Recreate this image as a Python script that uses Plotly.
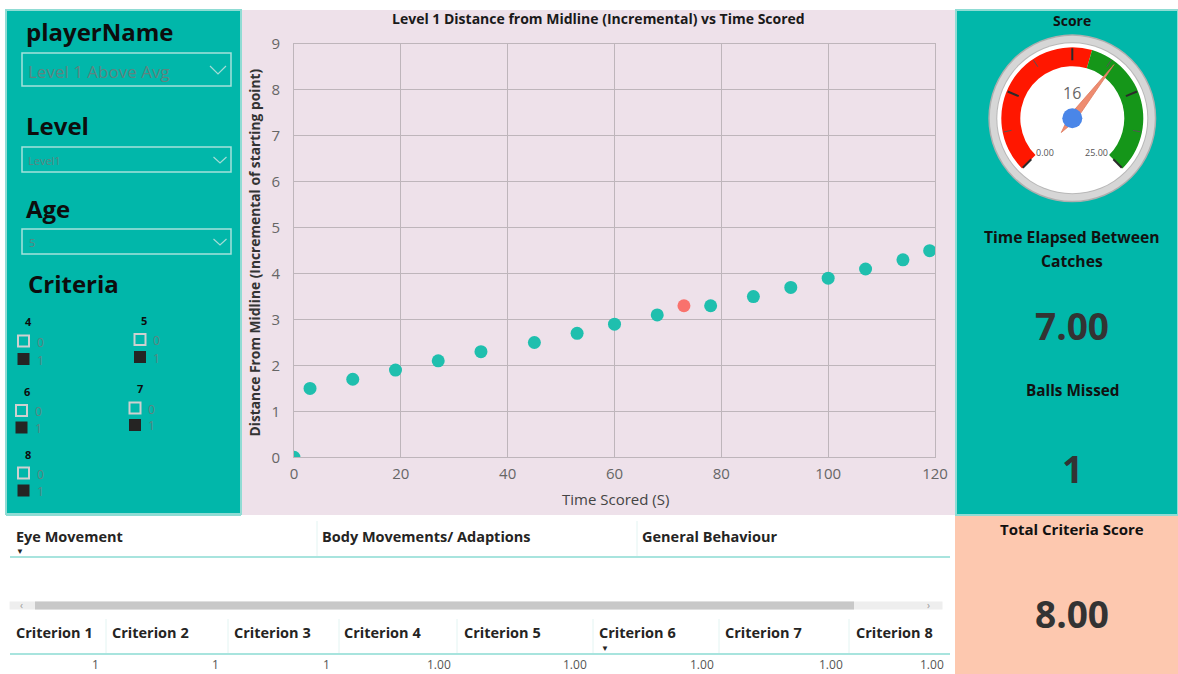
import plotly.graph_objects as go
import numpy as np

# ---------------- data ----------------
time_scored = [0, 3, 11, 19, 27, 35, 45, 53, 60, 68, 73, 78, 86, 93, 100, 107, 114, 119]
distance = [0, 1.5, 1.7, 1.9, 2.1, 2.3, 2.5, 2.7, 2.9, 3.1, 3.3, 3.3, 3.5, 3.7, 3.9, 4.1, 4.3, 4.5]
missed = [0, 0, 0, 0, 0, 0, 0, 0, 0, 0, 1, 0, 0, 0, 0, 0, 0, 0]

score_value = 16
gauge_min = 0
gauge_max = 25
gauge_split = 14

time_between = "7.00"
balls_missed = "1"
total_criteria = "8.00"

criteria_names = ["Criterion 1", "Criterion 2", "Criterion 3", "Criterion 4",
                  "Criterion 5", "Criterion 6", "Criterion 7", "Criterion 8"]
criteria_values = ["1", "1", "1", "1.00", "1.00", "1.00", "1.00", "1.00"]
group_names = ["Eye Movement", "Body Movements/ Adaptions", "General Behaviour"]
slicer_labels = ["4", "5", "6", "7", "8"]

# ---------------- helpers ----------------
W, H = 1178, 674
TEAL = "#01B7AA"
MINT = "#8FDCD4"
PINK = "#EEE1EA"
SALMON = "#FDC8AF"
FONT = "Open Sans"


def X(px):
    return px / W


def Y(py):
    return 1 - py / H


shapes = []
annotations = []


def rect(x0, y0, x1, y1, fill=None, line=None, lw=0, layer="below"):
    shapes.append(dict(type="rect", xref="paper", yref="paper",
                       x0=X(x0), x1=X(x1), y0=Y(y1), y1=Y(y0),
                       fillcolor=fill if fill else "rgba(0,0,0,0)",
                       line=dict(color=line if line else "rgba(0,0,0,0)", width=lw),
                       layer=layer))


def hline(x0, x1, y, color, lw=1):
    shapes.append(dict(type="line", xref="paper", yref="paper",
                       x0=X(x0), x1=X(x1), y0=Y(y), y1=Y(y),
                       line=dict(color=color, width=lw), layer="below"))


def vline(x, y0, y1, color, lw=1):
    shapes.append(dict(type="line", xref="paper", yref="paper",
                       x0=X(x), x1=X(x), y0=Y(y0), y1=Y(y1),
                       line=dict(color=color, width=lw), layer="below"))


def circle(cx, cy, r, fill, line=None, lw=0):
    shapes.append(dict(type="circle", xref="paper", yref="paper",
                       x0=X(cx - r), x1=X(cx + r), y0=Y(cy + r), y1=Y(cy - r),
                       fillcolor=fill,
                       line=dict(color=line if line else "rgba(0,0,0,0)", width=lw),
                       layer="below"))


def chevron(cx, cy, w, h, color):
    path = "M {} {} L {} {} L {} {}".format(X(cx - w / 2), Y(cy - h / 2), X(cx), Y(cy + h / 2),
                                            X(cx + w / 2), Y(cy - h / 2))
    shapes.append(dict(type="path", xref="paper", yref="paper", path=path,
                       line=dict(color=color, width=1.2), layer="above"))


def txt(x, y, s, size, color="#000000", weight="normal", xanchor="left", family=FONT, angle=0):
    if xanchor == "left":
        x = x - 2
    annotations.append(dict(x=X(x), y=Y(y), xref="paper", yref="paper", text=s,
                            showarrow=False, xanchor=xanchor, yanchor="middle",
                            textangle=angle,
                            font=dict(size=size, color=color, family=family, weight=weight)))


# ---------------- panels ----------------
rect(241, 10, 955, 515, fill=PINK)
rect(6, 10, 241, 514, fill=TEAL, line=MINT, lw=2)
rect(956, 10, 1178, 515, fill=TEAL, line=MINT, lw=2)
rect(955, 516, 1178, 674, fill=SALMON)

# ---------------- left slicers ----------------
txt(26, 32, "playerName", 24, "#0d0d0d", "bold")
rect(22, 53, 231, 86, line="#A5E2DC", lw=1.5)
txt(28, 71.5, "Level 1 Above Avg", 17, "#5E8480")
chevron(218, 70, 16, 8, "#A5DCD6")

txt(26, 125, "Level", 24, "#0d0d0d", "bold")
rect(22, 147, 231, 172, line="#A5E2DC", lw=1.5)
txt(28, 160.5, "Level1", 11, "#5E8480")
chevron(220, 160, 13, 6, "#A5DCD6")

txt(26, 208, "Age", 24, "#0d0d0d", "bold")
rect(22, 229, 231, 254, line="#A5E2DC", lw=1.5)
txt(29, 242.5, "5", 11, "#5E8480")
chevron(220, 242, 13, 6, "#A5DCD6")

txt(28, 283, "Criteria", 24, "#0d0d0d", "bold")

slicer_pos = [(28, 321, 23.5, 341, 359), (144, 320, 140, 339.5, 357),
              (27, 391, 21.5, 410.5, 427.5), (140, 388, 135, 408, 425),
              (28, 454, 23.5, 473, 490.5)]
for lab, (lx, ly, bx, by0, by1) in zip(slicer_labels, slicer_pos):
    txt(lx, ly, lab, 11, "#0d0d0d", "bold", xanchor="center")
    rect(bx - 5.5, by0 - 5.5, bx + 5.5, by0 + 5.5, line="#D0D0D0", lw=2, layer="above")
    rect(bx - 6, by1 - 6, bx + 6, by1 + 6, fill="#252423", layer="above")
    txt(bx + 13, by0 + 1, "0", 12, "#5E8480")
    txt(bx + 13, by1 + 1, "1", 12, "#5E8480")

# ---------------- scatter chart ----------------
colors = ["#F9726D" if m else "#1FBFAE" for m in missed]
fig = go.Figure()
fig.add_trace(go.Scatter(x=time_scored, y=distance, mode="markers",
                         marker=dict(color=colors, size=13, line=dict(width=0)),
                         cliponaxis=True, showlegend=False, hoverinfo="x+y"))

txt(598, 18, "Level 1 Distance from Midline (Incremental) vs Time Scored", 14, "#1a1a1a", "bold",
    xanchor="center")
txt(254, 252.5, "Distance From Midline (Incremental of starting point)", 13.8, "#333333", "bold",
    xanchor="center", angle=-90)
txt(615, 498.5, "Time Scored (S)", 15, "#444444", "normal", xanchor="center")

# ---------------- gauge ----------------
GCX, GCY = 1072.3, 118.3
GR = 83
circle(GCX, GCY, 84, "#AFAFAF")
circle(GCX, GCY, 82.5, "#D6D6D6")
circle(GCX, GCY, 76, "#B8B8B8")
circle(GCX, GCY, 75, "#FFFFFF")


def theta_of(v):
    return -135 + (v - gauge_min) / (gauge_max - gauge_min) * 270


span = 270 / (gauge_max - gauge_min)
fig.add_trace(go.Barpolar(r=[19], base=[52], theta=[theta_of((gauge_min + gauge_split) / 2)],
                          width=[(gauge_split - gauge_min) * span], marker_color="#FF1700",
                          marker_line_width=0, subplot="polar", showlegend=False, hoverinfo="skip"))
fig.add_trace(go.Barpolar(r=[19], base=[52], theta=[theta_of((gauge_split + gauge_max) / 2)],
                          width=[(gauge_max - gauge_split) * span], marker_color="#159619",
                          marker_line_width=0, subplot="polar", showlegend=False, hoverinfo="skip"))

major_vals = np.linspace(gauge_min, gauge_max, 5)
minor_vals = (major_vals[:-1] + major_vals[1:]) / 2
mr, mt = [], []
for v in major_vals:
    mr += [58, 70, None]
    mt += [theta_of(v), theta_of(v), None]
fig.add_trace(go.Scatterpolar(r=mr, theta=mt, mode="lines", line=dict(color="#2b2b2b", width=2),
                              subplot="polar", showlegend=False, hoverinfo="skip", connectgaps=False))
nr, nt = [], []
for v in minor_vals:
    nr += [62, 70, None]
    nt += [theta_of(v), theta_of(v), None]
fig.add_trace(go.Scatterpolar(r=nr, theta=nt, mode="lines", line=dict(color="#555555", width=1),
                              subplot="polar", showlegend=False, hoverinfo="skip", connectgaps=False))

th = theta_of(score_value)
fig.add_trace(go.Scatterpolar(r=[68, 4, 18, 4, 68], theta=[th, th + 90, th + 180, th - 90, th],
                              mode="lines", fill="toself", fillcolor="#EE8C70",
                              line=dict(color="#E07A5E", width=0.8),
                              subplot="polar", showlegend=False, hoverinfo="skip"))
fig.add_trace(go.Scatterpolar(r=[0], theta=[0], mode="markers",
                              marker=dict(size=20, color="#4A86E8"),
                              subplot="polar", showlegend=False, hoverinfo="skip"))

txt(1072, 93, str(score_value), 16, "#666666", "normal", xanchor="center")
txt(1045, 152, "{:.2f}".format(gauge_min), 9, "#555555", "normal", xanchor="center")
txt(1096, 152, "{:.2f}".format(gauge_max), 9, "#555555", "normal", xanchor="center")

# ---------------- right cards ----------------
txt(1072, 20, "Score", 14, "#111111", "bold", xanchor="center")
txt(1072, 237, "Time Elapsed Between", 15.7, "#111111", "bold", xanchor="center")
txt(1072, 261, "Catches", 15.7, "#111111", "bold", xanchor="center")
txt(1072, 326, time_between, 37, "#333333", "bold", xanchor="center")
txt(1072, 389.5, "Balls Missed", 15.3, "#111111", "bold", xanchor="center")
txt(1072, 468, balls_missed, 37, "#333333", "bold", xanchor="center")
txt(1072, 529, "Total Criteria Score", 15, "#111111", "bold", xanchor="center")
txt(1072, 613, total_criteria, 37, "#333333", "bold", xanchor="center")

# ---------------- bottom tables ----------------
hline(6, 241, 515, MINT, 2)
group_x = [16, 322, 642]
for gx, g in zip(group_x, group_names):
    txt(gx, 536, g, 14.5, "#252423", "bold")
for sx in [317, 637]:
    vline(sx, 521, 556, "#E3F4F2", 1)
hline(10, 950, 557, "#A8E4DE", 2)
txt(20, 550, "▼", 8, "#252423", "normal", xanchor="center")

rect(9.6, 601.5, 942.5, 609.5, fill="#EEEEEE")
rect(35, 601.5, 854, 609.5, fill="#C8C8C8")
txt(21, 605, "‹", 10, "#999999", "normal", xanchor="center")
txt(929, 605, "›", 10, "#999999", "normal", xanchor="center")

crit_x = [16, 112, 234, 344, 464, 599, 725, 856]
crit_right = [101, 221, 332, 453, 589, 716, 845, 946]
for cx, name in zip(crit_x, criteria_names):
    txt(cx, 632.5, name, 14.5, "#252423", "bold")
for sx in [106, 228, 339, 457, 593, 719, 849]:
    vline(sx, 619, 653, "#E3F4F2", 1)
hline(10, 950, 654, "#A8E4DE", 2)
txt(605, 647, "▼", 8, "#252423", "normal", xanchor="center")
for rx, val in zip(crit_right, criteria_values):
    annotations.append(dict(x=X(rx), y=Y(664.5), xref="paper", yref="paper", text=val,
                            showarrow=False, xanchor="right", yanchor="middle",
                            font=dict(size=12, color="#555555", family=FONT)))

# ---------------- layout ----------------
GRID = "#BEB5BB"
fig.update_layout(
    width=W, height=H,
    autosize=False,
    margin=dict(l=0, r=0, t=0, b=0, pad=0, autoexpand=False),
    paper_bgcolor="white",
    plot_bgcolor="rgba(0,0,0,0)",
    showlegend=False,
    xaxis=dict(domain=[294 / W, 935 / W], range=[0, 120], dtick=20, showgrid=True,
               gridcolor=GRID, gridwidth=1, zeroline=False, showline=True, mirror=True,
               linecolor=GRID, linewidth=1, ticks="", ticklabelstandoff=3, automargin=False,
               tickfont=dict(family=FONT, size=15, color="#666666"), fixedrange=True),
    yaxis=dict(domain=[1 - 457.3 / H, 1 - 44 / H], range=[0, 9], dtick=1, showgrid=True,
               gridcolor=GRID, gridwidth=1, zeroline=False, showline=True, mirror=True,
               linecolor=GRID, linewidth=1, ticks="", ticklabelstandoff=10, automargin=False,
               tickfont=dict(family=FONT, size=15, color="#666666"), fixedrange=True),
    polar=dict(domain=dict(x=[(GCX - GR) / W, (GCX + GR) / W],
                           y=[1 - (GCY + GR) / H, 1 - (GCY - GR) / H]),
               bgcolor="rgba(0,0,0,0)",
               radialaxis=dict(range=[0, GR], visible=False),
               angularaxis=dict(visible=False, rotation=90, direction="clockwise"),
               barmode="overlay"),
    shapes=shapes,
    annotations=annotations,
)

fig.write_html("out.html", config={"displayModeBar": False})
